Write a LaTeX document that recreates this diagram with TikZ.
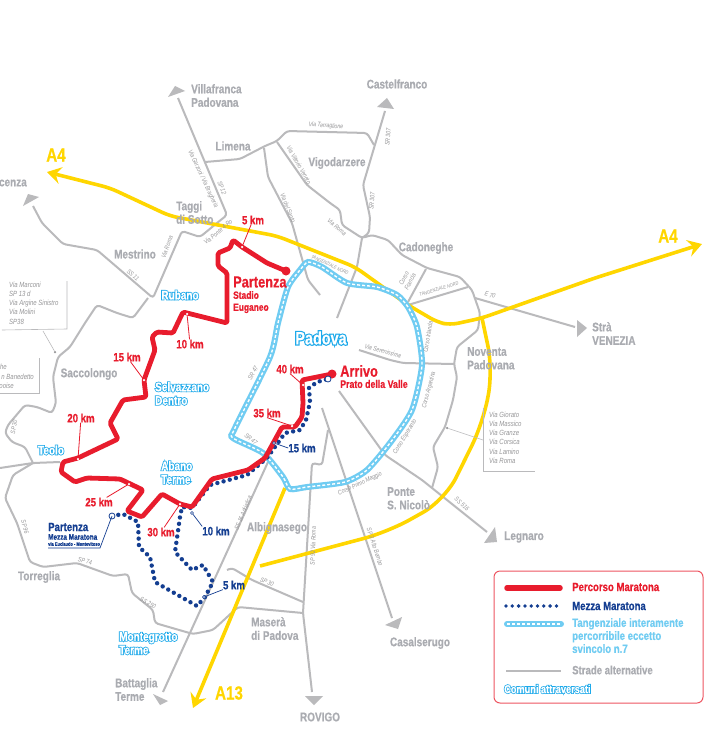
\documentclass[tikz,border=0pt]{standalone}
\usepackage{fontspec}
\usepackage{xcolor}
\setmainfont[FakeStretch=0.8,BoldFeatures={FakeStretch=0.8,FakeBold=0.5}]{Liberation Sans}
\newfontfamily\halofont[FakeStretch=0.8,FakeBold=14,BoldFeatures={FakeStretch=0.8,FakeBold=14}]{Liberation Sans}
\usetikzlibrary{arrows.meta}
\definecolor{mapRed}{RGB}{232, 28, 45}
\definecolor{mapBlue}{RGB}{20, 62, 145}
\definecolor{mapRing}{RGB}{112, 204, 242}
\definecolor{mapCyan}{RGB}{30, 170, 235}
\definecolor{mapYellow}{RGB}{255, 214, 0}
\definecolor{mapRoad}{RGB}{186, 186, 188}
\definecolor{mapCity}{RGB}{170, 172, 177}
\definecolor{mapNote}{RGB}{150, 150, 152}
\newcommand{\halo}[1]{{\halofont\bfseries\color{mapCyan}\rlap{#1}}{\bfseries\color{white}#1}}
\tikzset{
    road/.style={
        draw=mapRoad,
        line width=2pt,
        rounded corners=3pt
    },
    endtip/.style={
        fill=mapRoad
    },
    motorway/.style={
        draw=mapYellow,
        line width=3.6pt,
        rounded corners=8pt,
        -{Stealth[length=14pt,width=17pt,inset=5pt]}
    },
    ringout/.style={
        draw=mapRing,
        line width=6pt
    },
    ringin/.style={
        draw=white,
        line width=1.4pt,
        dash pattern=on 3pt off 2pt
    },
    marathon/.style={
        draw=mapRed,
        line width=4.8pt,
        line join=round,
        line cap=round,
        rounded corners=1.5pt
    },
    halfrun/.style={
        draw=mapBlue,
        line width=4.4pt,
        line cap=round,
        dash pattern=on 0pt off 6.4pt
    },
    city/.style={
        font=\fontsize{12.5}{13.5}\selectfont\bfseries,
        text=mapCity,
        inner sep=0pt,
        align=left
    },
    redtext/.style={
        font=\fontsize{12}{13}\selectfont\bfseries,
        text=mapRed,
        inner sep=0pt,
        align=left
    },
    bluetext/.style={
        font=\fontsize{12}{13}\selectfont\bfseries,
        text=mapBlue,
        inner sep=0pt,
        align=left
    },
    comune/.style={
        font=\fontsize{12.5}{13.5}\selectfont,
        inner sep=0pt,
        align=left
    },
    streetname/.style={
        font=\fontsize{6.5}{7}\selectfont\itshape,
        text=mapNote,
        inner sep=0pt,
        align=center
    },
    notetext/.style={
        font=\fontsize{7.5}{9.1}\selectfont\itshape,
        text=mapNote,
        inner sep=0pt,
        align=left
    },
    noteline/.style={
        draw=mapRoad,
        line width=0.6pt
    },
    redtick/.style={
        draw=mapRed,
        line width=0.8pt
    },
    bluetick/.style={
        draw=mapBlue,
        line width=0.7pt
    },
    marker/.style={
        fill=white,
        circle,
        inner sep=0pt,
        minimum size=2.5pt
    },
    legendbox/.style={
        draw=mapRed!75,
        line width=1pt,
        rounded corners=6pt
    }
}
\begin{document}
\begin{tikzpicture}[x=1pt,y=-1pt]
  \useasboundingbox (0,0) rectangle (711,733);
  \fill[white] (0,0) rectangle (711,733);

  % Roads
  \draw[road] (178,98) -- (227,215) -- (217,223) -- (200,237) -- (182,231) -- (153,298) -- (97,250) -- (63,244) -- (42,223) -- (33,206);
  \draw[road] (148,298) -- (133,318) -- (117,313) -- (97,305) -- (85,323) -- (70,347) -- (58,357) -- (53,377) -- (56,403) -- (52,413) -- (37,407) -- (25,405) -- (8,425) -- (5,433) -- (12,442) -- (25,447) -- (33,463);
  \draw[road] (0,468) -- (33,463) -- (60,462);
  \draw[road] (33,463) -- (13,475) -- (5,498) -- (17,523) -- (30,562) -- (43,567) -- (77,563) -- (113,576) -- (128,574) -- (132,593) -- (153,610) -- (155,623) -- (193,634) -- (213,630) -- (238,607) -- (303,613);
  \draw[road] (163,692) -- (268,462);
  \draw[road] (227,570) -- (232,568) -- (252,580) -- (303,602);
  \draw[road] (312,692) -- (303,613) -- (312,463) -- (322,465) -- (328,430);
  \draw[road] (322,408) -- (392,618);
  \draw[road] (339,391) -- (385,455) -- (422,480) -- (487,532);
  \draw[road] (432,488) -- (438,467) -- (433,447) -- (445,427) -- (453,400) -- (457,377) -- (454,364) -- (457,347) -- (478,330) -- (480,313) -- (472,290) -- (460,277) -- (427,268) -- (402,255) -- (388,240) -- (372,235) -- (362,238) -- (342,225) -- (340,210) -- (330,203) -- (307,185) -- (277,142);
  \draw[road] (359,350) -- (390,360) -- (403,363) -- (454,364);
  \draw[road] (408,305) -- (468,287);
  \draw[road] (408,302) -- (426,269);
  \draw[road] (475,298) -- (575,327);
  \draw[road] (385,111) -- (363,185) -- (370,217) -- (369,233) -- (362,238);
  \draw[road] (205,162) -- (240,159) -- (265,146) -- (277,141) -- (287,131) -- (367,133) -- (374,145);
  \draw[road] (264,148) -- (268,177) -- (292,223) -- (308,280) -- (320,295);
  \draw[road] (362,238) -- (357,267) -- (337,318);

  % Road ends
  \fill[endtip] (168,97) -- (185,91) -- (175,86) -- cycle;
  \fill[endtip] (23,206) -- (39,197) -- (28,194) -- cycle;
  \fill[endtip] (377,107) -- (387,98) -- (394,109) -- cycle;
  \fill[endtip] (577,320) -- (587,328) -- (577,337) -- cycle;
  \fill[endtip] (495,527) -- (497,542) -- (484,543) -- cycle;
  \fill[endtip] (385,625) -- (402,617) -- (398,629) -- cycle;
  \fill[endtip] (305,696) -- (323,696) -- (314,705) -- cycle;
  \fill[endtip] (153,694) -- (168,701) -- (160,705) -- cycle;

  % Motorways
  \draw[motorway, {Stealth[length=14pt,width=17pt,inset=5pt]}-{Stealth[length=14pt,width=17pt,inset=5pt]}] (47,172) -- (110,188) -- (170,216) -- (277,236) -- (355,267) -- (408,305) -- (437,322) -- (450,325) -- (482,318) -- (595,278) -- (702,244);
  \draw[motorway, -, rounded corners=25pt] (482,318) -- (493,370) -- (483,423) -- (445,500) -- (388,532) -- (260,566);
  \draw[motorway] (285,488) -- (193,708);

  % Ring road
  \def\ringpoints{(308,262) (322,267) (347,283) (377,287) (397,295) (408,307) (417,327) (422,365) (412,410) (390,443) (367,470) (345,482) (307,487) (290,489) (283,477) (263,453) (233,438) (235,428) (270,357) (278,323) (288,287) (300,270)}
  \draw[ringout] plot[smooth cycle, tension=0.4] coordinates {\ringpoints};
  \draw[ringin] plot[smooth cycle, tension=0.4] coordinates {\ringpoints};

  % Half marathon
  \coordinate (halfstart) at (112,516);
  \coordinate (halfend) at (328,379);
  \draw[halfrun] (halfstart) -- (123,514) -- (138,522) -- (139,547) -- (150,557) -- (155,582) -- (197,606) -- (205,597) -- (213,582) -- (203,565) -- (192,570) -- (175,552) -- (180,517) -- (182,507) -- (192,508) -- (210,485) -- (247,475) -- (267,458) -- (285,433) -- (300,430) -- (306,420) -- (310,402) -- (309,388) -- (317,382) -- (halfend);

  % Marathon
  \coordinate (start) at (286,271);
  \coordinate (finish) at (332,374);
  \draw[marathon] (start) -- (267,263) -- (242,247) -- (233,240) -- (230,248) -- (218,253) -- (218,266) -- (227,273) -- (227,323) -- (183,312) -- (173,333) -- (157,332) -- (152,337) -- (155,350) -- (144,380) -- (146,397) -- (123,400) -- (110,423) -- (118,439) -- (78,458) -- (63,462) -- (61,472) -- (75,482) -- (87,478) -- (120,479) -- (143,490) -- (127,511) -- (142,517) -- (162,494) -- (180,504) -- (192,507) -- (212,479) -- (248,470) -- (265,458) -- (282,427) -- (295,427) -- (302,417) -- (303,403) -- (302,380) -- (finish);
  \fill[mapRed] (start) circle (4.5pt);
  \fill[mapRed] (finish) circle (4.5pt);
  \draw[mapBlue, fill=white, line width=0.8pt] (halfstart) circle (3pt);
  \draw[mapBlue, fill=white, line width=0.8pt] (halfend) circle (3pt);

  % Marathon kilometres
  \node[redtext] (km5) at (253,220) {5 km};
  \node[redtext] (km10) at (190,344) {10 km};
  \node[redtext] (km15) at (127,357) {15 km};
  \node[redtext] (km20) at (81,418) {20 km};
  \node[redtext] (km25) at (99,502) {25 km};
  \node[redtext] (km30) at (161,532) {30 km};
  \node[redtext] (km35) at (267,413) {35 km};
  \node[redtext] (km40) at (290,369) {40 km};
  \node[marker] (m5) at (242,247) {};
  \node[marker] (m10) at (187,314) {};
  \node[marker] (m15) at (144,380) {};
  \node[marker] (m20) at (78,459) {};
  \node[marker] (m25) at (129,484) {};
  \node[marker] (m30) at (180,504) {};
  \node[marker] (m35) at (292,426) {};
  \node[marker] (m40) at (303,385) {};
  \draw[redtick] (m5) -- (km5);
  \draw[redtick] (m10) -- (km10);
  \draw[redtick] (m15) -- (km15);
  \draw[redtick] (m20) -- (km20);
  \draw[redtick] (m25) -- (km25);
  \draw[redtick] (m30) -- (km30);
  \draw[redtick] (m35) -- (km35.south);
  \draw[redtick] (m40) -- (km40.south);

  % Half marathon kilometres
  \node[bluetext] (hm5) at (234,585) {5 km};
  \node[bluetext] (hm10) at (216,531) {10 km};
  \node[bluetext] (hm15) at (302,448) {15 km};
  \node[marker, draw=mapBlue, line width=0.5pt, minimum size=3pt] (h5) at (204,597) {};
  \node[marker, draw=mapBlue, line width=0.5pt, minimum size=3pt] (h10) at (192,513) {};
  \node[marker, draw=mapBlue, line width=0.5pt, minimum size=3pt] (h15) at (274,443) {};
  \draw[bluetick] (h5) -- (hm5.south west);
  \draw[bluetick] (h10) -- (hm10.north west);
  \draw[bluetick] (h15) -- (hm15.west);

  % Start and finish
  \node[redtext, font=\fontsize{16}{17}\selectfont\bfseries, anchor=west] (partenza) at (233,282) {Partenza};
  \node[redtext, font=\fontsize{10.5}{12}\selectfont\bfseries, anchor=north west] (stadio) at (233,291) {Stadio\\Euganeo};
  \node[redtext, font=\fontsize{16}{17}\selectfont\bfseries, anchor=west] (arrivo) at (340,371) {Arrivo};
  \node[redtext, font=\fontsize{11}{12}\selectfont\bfseries, anchor=west] (prato) at (340,384) {Prato della Valle};
  \node[bluetext, anchor=west] (halfname) at (48,527) {Partenza};
  \node[bluetext, font=\fontsize{8}{9}\selectfont\bfseries, anchor=west] (halfsub) at (48,537) {Mezza Maratona};
  \node[bluetext, font=\fontsize{5}{6}\selectfont\bfseries, anchor=west] (halfvia) at (48,544) {via Euclaudo - Montevitoso};
  \coordinate (halfbend) at (100,548);
  \coordinate (halfleft) at (48,548);
  \draw[bluetick] (halfstart) -- (halfbend) -- (halfleft);

  % Towns
  \node[city, anchor=north west] (villafranca) at (191,84) {Villafranca\\Padovana};
  \node[city] (limena) at (233,146) {Limena};
  \node[city] (vigodarzere) at (337,163) {Vigodarzere};
  \node[city] (castelfranco) at (397,84) {Castelfranco};
  \node[city] (cadoneghe) at (426,248) {Cadoneghe};
  \node[city, anchor=north west] (taggi) at (176,201) {Taggi\\di Sotto};
  \node[city] (mestrino) at (135,254) {Mestrino};
  \node[city, anchor=east] (vicenza) at (27,183) {cenza};
  \node[city] (saccolongo) at (89,374) {Saccolongo};
  \node[city] (torreglia) at (39,577) {Torreglia};
  \node[city] (albignasego) at (277,528) {Albignasego};
  \node[city, anchor=north west] (masera) at (251,617) {Maserà\\di Padova};
  \node[city, anchor=north west] (battaglia) at (115,678) {Battaglia\\Terme};
  \node[city] (rovigo) at (320,717) {ROVIGO};
  \node[city] (casalserugo) at (420,643) {Casalserugo};
  \node[city] (legnaro) at (524,537) {Legnaro};
  \node[city, anchor=north west] (ponte) at (387,487) {Ponte\\S. Nicolò};
  \node[city, anchor=north west] (noventa) at (467,347) {Noventa\\Padovana};
  \node[city, anchor=north west] (stra) at (592,322) {Strà\\VENEZIA};

  % Motorway names
  \node[city, text=mapYellow, font=\fontsize{19}{20}\selectfont\bfseries] (a4west) at (56,155) {A4};
  \node[city, text=mapYellow, font=\fontsize{19}{20}\selectfont\bfseries] (a4east) at (668,236) {A4};
  \node[city, text=mapYellow, font=\fontsize{19}{20}\selectfont\bfseries] (a13) at (229,693) {A13};

  % Towns on the route
  \node[comune, font=\fontsize{18}{19}\selectfont] (padova) at (321,338) {\halo{Padova}};
  \node[comune] (rubano) at (180,295) {\halo{Rubano}};
  \node[comune, anchor=north west] (selvazzano) at (155,382) {\halo{Selvazzano}\\\halo{Dentro}};
  \node[comune] (teolo) at (51,450) {\halo{Teolo}};
  \node[comune, anchor=north west] (abano) at (161,461) {\halo{Abano}\\\halo{Terme}};
  \node[comune, anchor=north west] (montegrotto) at (119,632) {\halo{Montegrotto}\\\halo{Terme}};

  % Street names
  \node[streetname, rotate=-65] (s1) at (203,179) {Via Garzoni / Via Bragheria};
  \node[streetname, rotate=-70] (s2) at (222,188) {SP 12};
  \node[streetname, rotate=40] (s3) at (218,232) {Via Ponte 4 Ro};
  \node[streetname, rotate=70] (s4) at (167,247) {Via Roma};
  \node[streetname, rotate=-40] (s5) at (133,275) {SS 11};
  \node[streetname, rotate=-60] (s6) at (299,165) {Via Vittorio Veneto};
  \node[streetname, rotate=-68] (s7) at (288,208) {Via del Santo};
  \node[streetname, rotate=-40] (s8) at (337,227) {Via Roma};
  \node[streetname, rotate=-5] (s9) at (326,126) {Via Terraglione};
  \node[streetname, rotate=85] (s10) at (388,137) {SR 307};
  \node[streetname, rotate=85] (s11) at (372,201) {SR 307};
  \node[streetname, rotate=-25, font=\fontsize{5}{6}\selectfont\itshape] (s12) at (330,265) {TANGENZIALE NORD};
  \node[streetname, rotate=17, font=\fontsize{5}{6}\selectfont\itshape] (s13) at (439,289) {TANGENZIALE NORD};
  \node[streetname, rotate=62] (s14) at (407,280) {Corso\\Francia};
  \node[streetname, rotate=-15] (s15) at (490,295) {E 70};
  \node[streetname, rotate=80] (s16) at (428,337) {Corso Irlanda};
  \node[streetname, rotate=75] (s17) at (429,390) {Corso Argentina};
  \node[streetname, rotate=58] (s18) at (405,437) {Corso Esperanto};
  \node[streetname, rotate=25] (s19) at (360,484) {Corso Primo Maggio};
  \node[streetname, rotate=-15] (s20) at (383,351) {Via Serenissima};
  \node[streetname, rotate=60] (s21) at (253,373) {SR 47};
  \node[streetname, rotate=-40] (s22) at (251,439) {SR 47};
  \node[streetname, rotate=68] (s23) at (243,513) {SS 16 Adriatica};
  \node[streetname, rotate=88] (s24) at (313,546) {SP 92 Via Roma};
  \node[streetname, rotate=-25] (s25) at (267,582) {SP 30};
  \node[streetname, rotate=80] (s26) at (14,427) {SP 30};
  \node[streetname, rotate=-30] (s27) at (148,603) {SS 250};
  \node[streetname, rotate=-12] (s28) at (85,561) {SP 74};
  \node[streetname, rotate=-75] (s29) at (25,527) {SP 96};
  \node[streetname, rotate=-42] (s30) at (462,504) {SS 516};
  \node[streetname, rotate=-72] (s31) at (375,547) {SP 3 Alto Bembo};

  % Notes
  \node[notetext, anchor=north west] (noteone) at (9,282) {Via Marconi\\SP 13 d\\Via Argine Sinistro\\Via Molini\\SP38};
  \draw[noteline] (67,281) -- (67,329) -- (2,330);
  \node[circle, fill=mapNote, inner sep=0pt, minimum size=2.5pt] (notedotone) at (55,352) {};
  \coordinate (noteoneend) at (43,331);
  \draw[noteline] (noteoneend) -- (notedotone);
  \node[notetext, anchor=east] (notetwoa) at (7,367) {he};
  \node[notetext, anchor=east] (notetwob) at (34,377) {n Banedetto};
  \node[notetext, anchor=east] (notetwoc) at (14,386) {ooise};
  \draw[noteline] (39,358) -- (39,393) -- (0,393);
  \node[notetext, anchor=north west] (notethree) at (489,412) {Via Giorato\\Via Massico\\Via Granze\\Via Corsica\\Via Lamino\\Via Roma};
  \draw[noteline] (483,408) -- (483,471) -- (535,471);
  \node[circle, fill=mapNote, inner sep=0pt, minimum size=2.5pt] (notedotthree) at (447,428) {};
  \coordinate (notethreeend) at (483,440);
  \draw[noteline] (notedotthree) -- (notethreeend);

  % Legend
  \draw[legendbox] (494,571) rectangle (703,703);
  \draw[draw=mapRed, line width=5.5pt, line cap=round] (507,588) -- (560,588);
  \draw[halfrun, line width=3.8pt, dash pattern=on 0pt off 6.3pt] (506,606) -- (561,606);
  \draw[ringout, line cap=round] (507,624) -- (561,624);
  \draw[ringin] (507,624) -- (561,624);
  \draw[road] (506,671) -- (561,671);
  \node[redtext, anchor=west] (legred) at (572,587) {Percorso Maratona};
  \node[bluetext, anchor=west] (legblue) at (572,606) {Mezza Maratona};
  \node[bluetext, text=mapRing, anchor=north west] (legring) at (572,618) {Tangenziale interamente\\percorribile eccetto\\svincolo n.7};
  \node[city, font=\fontsize{12}{13}\selectfont\bfseries, anchor=west] (leggray) at (572,670) {Strade alternative};
  \node[comune, font=\fontsize{11.5}{12.5}\selectfont, anchor=west] (legcomuni) at (504,689) {\halo{Comuni attraversati}};
\end{tikzpicture}
\end{document}
